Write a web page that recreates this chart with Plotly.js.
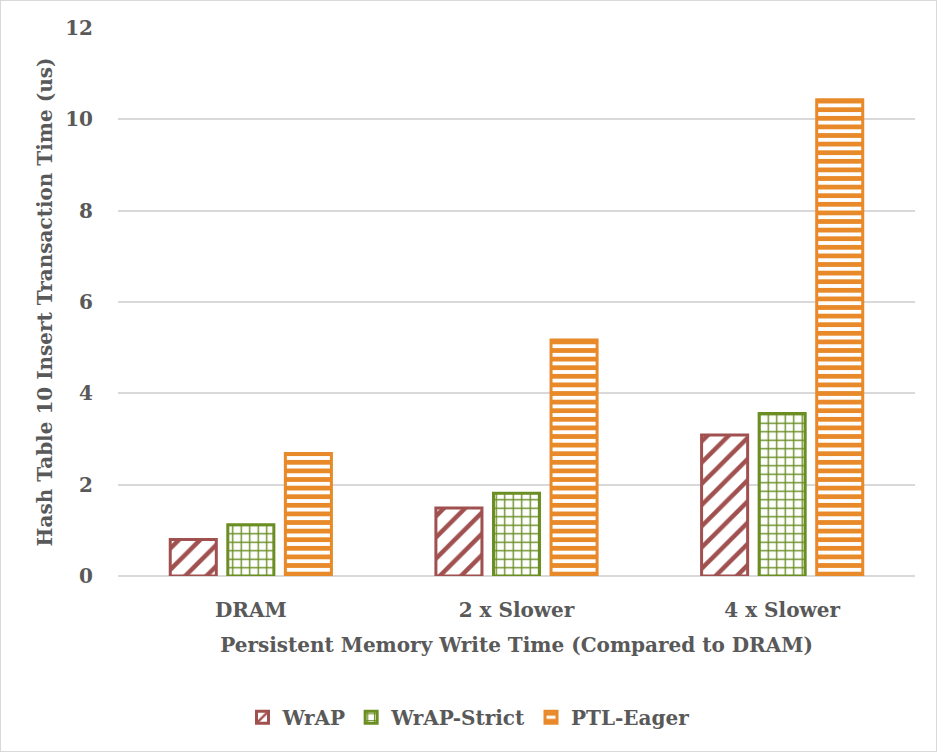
<!DOCTYPE html>
<html>
<head>
<meta charset="utf-8">
<script src="https://cdn.plot.ly/plotly-3.0.1.min.js"></script>
<style>
html,body{margin:0;padding:0;background:#fff;}
#chart{width:935px;height:750px;border:1px solid #d9d9d9;}
</style>
</head>
<body>
<div id="chart"></div>
<script>
var categories = ["DRAM", "2 x Slower", "4 x Slower"];
var seriesNames = ["WrAP", "WrAP-Strict", "PTL-Eager"];
var wrap = [0.80, 1.49, 3.09];
var wrapStrict = [1.12, 1.81, 3.56];
var ptlEager = [2.68, 5.17, 10.43];
var yTicks = [0, 2, 4, 6, 8, 10, 12];

var colors = ["#A0504F", "#6A8E22", "#E8892A"];
var shapes = ["/", "+", "-"];
var sizes = [15, 8.5, 8.6];
var solid = [0.3, 0.3, 0.55];
var values = [wrap, wrapStrict, ptlEager];

var font = "'DejaVu Serif', 'Liberation Serif', serif";
var tc = "#595959";
var traces = values.map(function (v, i) {
  return {
    type: "bar",
    name: seriesNames[i],
    x: categories,
    y: v,
    marker: {
      color: "#ffffff",
      line: {color: colors[i], width: 3},
      pattern: {shape: shapes[i], fgcolor: colors[i], bgcolor: "#ffffff", fgopacity: 1, size: sizes[i], solidity: solid[i], fillmode: "overlay"}
    },
    hoverinfo: "x+y+name"
  };
});

var layout = {
  width: 935, height: 750,
  margin: {l: 117, r: 21, t: 27, b: 175},
  paper_bgcolor: "#ffffff", plot_bgcolor: "#ffffff",
  font: {family: font, size: 20, color: tc, weight: "bold"},
  barmode: "group",
  bargap: 0.35,
  bargroupgap: 0.2,
  showlegend: true,
  legend: {orientation: "h", x: 0.5, xanchor: "center", xref: "container", y: 0.045, yref: "container", yanchor: "middle",
    font: {family: font, size: 20, color: tc, weight: "bold"}, itemwidth: 30, traceorder: "normal"},
  xaxis: {
    type: "category",
    showgrid: false, zeroline: false, showline: false,
    ticks: "", ticklabelstandoff: 20,
    tickfont: {family: font, size: 20, color: tc, weight: "bold"},
    title: {text: "Persistent Memory Write Time (Compared to DRAM)", font: {family: font, size: 20, color: tc, weight: "bold"}, standoff: 16}
  },
  yaxis: {
    range: [0, 12],
    tickvals: yTicks,
    ticktext: yTicks.map(String),
    showgrid: true, gridcolor: "#d9d9d9", gridwidth: 1.5,
    zeroline: true, zerolinecolor: "#d9d9d9", zerolinewidth: 1.5,
    showline: false, ticks: "", ticklabelstandoff: 24,
    tickfont: {family: font, size: 20, color: tc, weight: "bold"},
    title: {text: "Hash Table 10 Insert Transaction Time (us)", font: {family: font, size: 20, color: tc, weight: "bold"}, standoff: 7}
  }
};

Plotly.newPlot("chart", traces, layout, {displayModeBar: false});
</script>
</body>
</html>
